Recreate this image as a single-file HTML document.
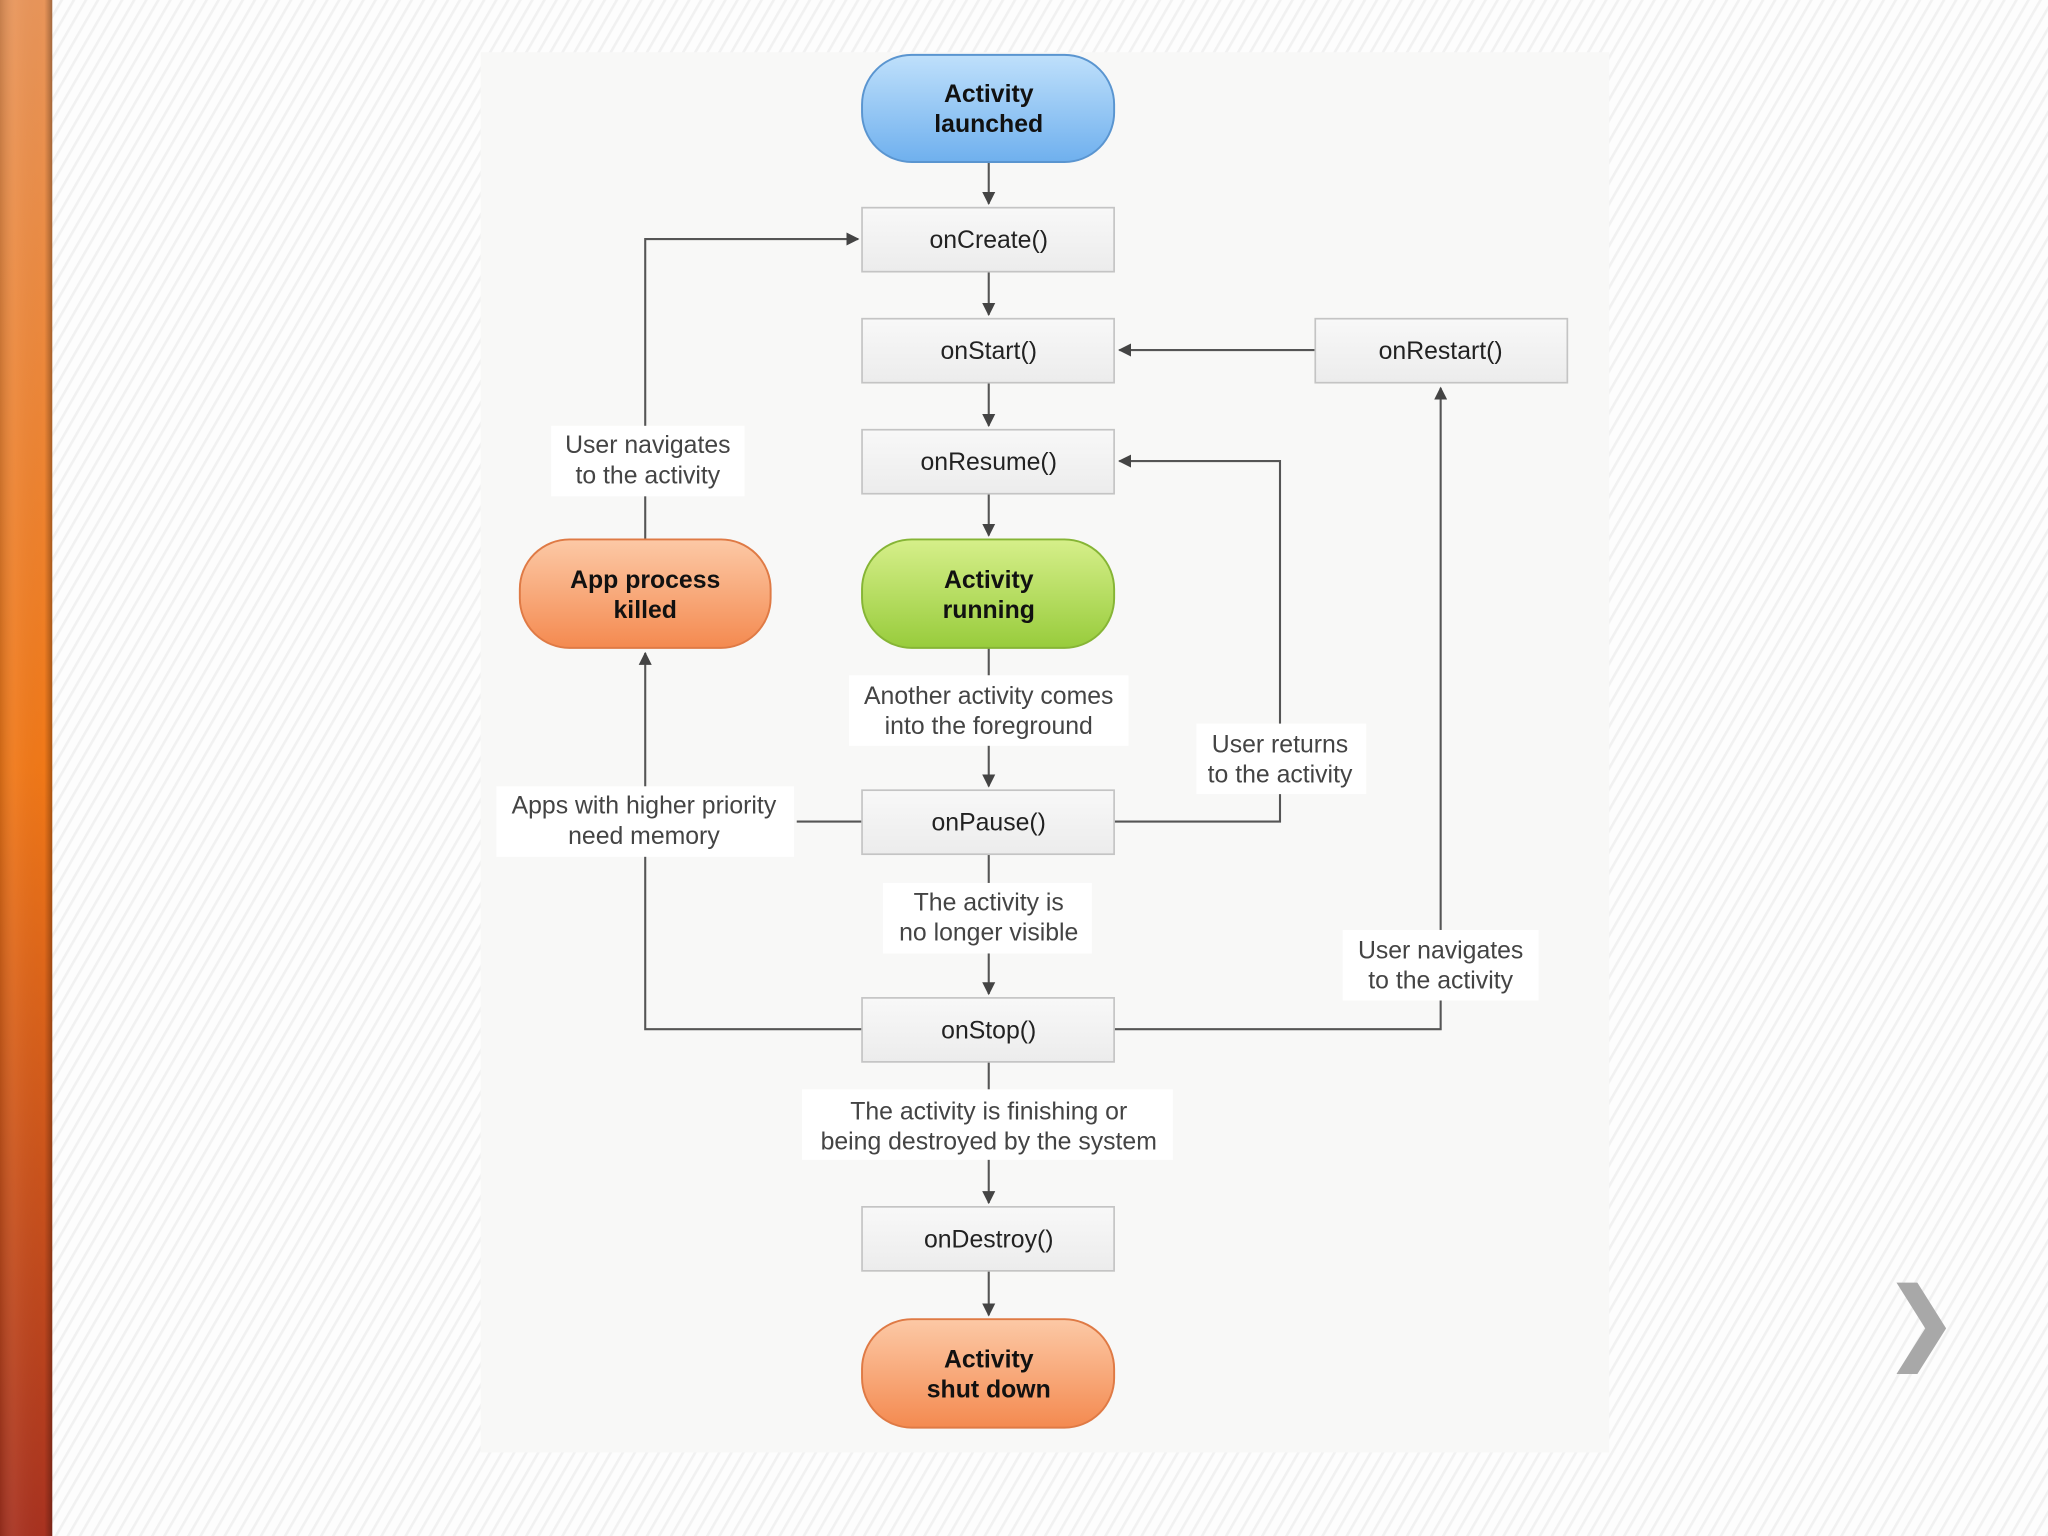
<!DOCTYPE html>
<html><head><meta charset="utf-8"><style>
html,body{margin:0;padding:0;width:2048px;height:1536px;overflow:hidden;background:#fcfcfc}
svg{display:block}
text{font-family:"Liberation Sans",sans-serif}
</style></head><body>
<svg width="2048" height="1536" viewBox="0 0 1568 1176" xmlns="http://www.w3.org/2000/svg">
<defs>
<pattern id="st" width="8" height="8" patternUnits="userSpaceOnUse" patternTransform="rotate(30)">
<rect width="8" height="8" fill="#fdfdfd"/><rect width="2" height="8" fill="#f1f1f1"/></pattern>
<linearGradient id="bar" x1="0" y1="0" x2="0" y2="1">
<stop offset="0" stop-color="#e8955a"/><stop offset="0.5" stop-color="#f07818"/><stop offset="1" stop-color="#a83220"/></linearGradient>
<linearGradient id="barh" x1="0" y1="0" x2="1" y2="0">
<stop offset="0" stop-color="#000" stop-opacity="0.15"/><stop offset="0.3" stop-color="#fff" stop-opacity="0.05"/><stop offset="0.85" stop-color="#000" stop-opacity="0"/><stop offset="1" stop-color="#000" stop-opacity="0.3"/></linearGradient>
<linearGradient id="blue" x1="0" y1="0" x2="0" y2="1"><stop offset="0" stop-color="#bfe0fb"/><stop offset="1" stop-color="#6fb0ee"/></linearGradient>
<linearGradient id="green" x1="0" y1="0" x2="0" y2="1"><stop offset="0" stop-color="#d6ef8a"/><stop offset="1" stop-color="#98cc3c"/></linearGradient>
<linearGradient id="orange" x1="0" y1="0" x2="0" y2="1"><stop offset="0" stop-color="#fcc9a6"/><stop offset="1" stop-color="#f48a50"/></linearGradient>
<linearGradient id="box" x1="0" y1="0" x2="0" y2="1"><stop offset="0" stop-color="#f8f8f8"/><stop offset="1" stop-color="#ececec"/></linearGradient>
<marker id="a" markerWidth="10" markerHeight="10" refX="9" refY="5" orient="auto" markerUnits="userSpaceOnUse"><path d="M0,0 L10,5 L0,10 z" fill="#444"/></marker>
</defs>
<rect width="1568" height="1176" fill="url(#st)"/>
<rect x="0" y="0" width="40" height="1176" fill="url(#bar)"/>
<rect x="0" y="0" width="40" height="1176" fill="url(#barh)"/>
<rect x="368" y="40" width="864" height="1072" fill="#f8f8f7"/>

<g stroke="#555" stroke-width="1.6" fill="none">
<line x1="757" y1="124" x2="757" y2="156" marker-end="url(#a)"/>
<line x1="757" y1="208" x2="757" y2="241" marker-end="url(#a)"/>
<line x1="757" y1="293" x2="757" y2="326" marker-end="url(#a)"/>
<line x1="757" y1="378" x2="757" y2="410" marker-end="url(#a)"/>
<line x1="757" y1="496" x2="757" y2="602" marker-end="url(#a)"/>
<line x1="757" y1="654" x2="757" y2="761" marker-end="url(#a)"/>
<line x1="757" y1="813" x2="757" y2="921" marker-end="url(#a)"/>
<line x1="757" y1="973" x2="757" y2="1007" marker-end="url(#a)"/>
<line x1="1007" y1="268" x2="857" y2="268" marker-end="url(#a)"/>
<path d="M853,629 H980 V353 H857" marker-end="url(#a)"/>
<path d="M853,788 H1103 V297" marker-end="url(#a)"/>
<path d="M660,788 H494 V500" marker-end="url(#a)"/>
<line x1="660" y1="629" x2="610" y2="629"/>
<path d="M494,413 V183 H657" marker-end="url(#a)"/>
</g>

<g fill="#fff">
<rect x="422" y="326" width="148" height="54"/>
<rect x="650" y="517" width="214" height="54"/>
<rect x="916" y="554" width="130" height="54"/>
<rect x="380" y="602" width="228" height="54"/>
<rect x="676" y="676" width="160" height="54"/>
<rect x="1028" y="712" width="150" height="54"/>
<rect x="614" y="834" width="284" height="54"/>
</g>
<g font-size="19" fill="#444" text-anchor="middle">
<text x="496" y="347">User navigates</text><text x="496" y="370">to the activity</text>
<text x="757" y="539">Another activity comes</text><text x="757" y="562">into the foreground</text>
<text x="980" y="576">User returns</text><text x="980" y="599">to the activity</text>
<text x="493" y="623">Apps with higher priority</text><text x="493" y="646">need memory</text>
<text x="757" y="697">The activity is</text><text x="757" y="720">no longer visible</text>
<text x="1103" y="734">User navigates</text><text x="1103" y="757">to the activity</text>
<text x="757" y="857">The activity is finishing or</text><text x="757" y="880">being destroyed by the system</text>
</g>

<g stroke="#c4c4c4" stroke-width="1.3" fill="url(#box)">
<rect x="660" y="159" width="193" height="49"/>
<rect x="660" y="244" width="193" height="49"/>
<rect x="1007" y="244" width="193" height="49"/>
<rect x="660" y="329" width="193" height="49"/>
<rect x="660" y="605" width="193" height="49"/>
<rect x="660" y="764" width="193" height="49"/>
<rect x="660" y="924" width="193" height="49"/>
</g>
<g font-size="19" fill="#222" text-anchor="middle">
<text x="757" y="190">onCreate()</text>
<text x="757" y="275">onStart()</text>
<text x="1103" y="275">onRestart()</text>
<text x="757" y="360">onResume()</text>
<text x="757" y="636">onPause()</text>
<text x="757" y="795">onStop()</text>
<text x="757" y="955">onDestroy()</text>
</g>

<g stroke-width="1.5">
<rect x="660" y="42" width="193" height="82" rx="38" fill="url(#blue)" stroke="#5a95d0"/>
<rect x="660" y="413" width="193" height="83" rx="38" fill="url(#green)" stroke="#86b535"/>
<rect x="398" y="413" width="192" height="83" rx="38" fill="url(#orange)" stroke="#df7a45"/>
<rect x="660" y="1010" width="193" height="83" rx="38" fill="url(#orange)" stroke="#df7a45"/>
</g>
<g font-size="19" font-weight="bold" fill="#111" text-anchor="middle">
<text x="757" y="78">Activity</text><text x="757" y="101">launched</text>
<text x="757" y="450">Activity</text><text x="757" y="473">running</text>
<text x="494" y="450">App process</text><text x="494" y="473">killed</text>
<text x="757" y="1047">Activity</text><text x="757" y="1070">shut down</text>
</g>

<path d="M1452,982 L1468,982 L1490,1017 L1468,1052 L1452,1052 L1474,1017 Z" fill="#a8a8a8"/>
</svg>
</body></html>
